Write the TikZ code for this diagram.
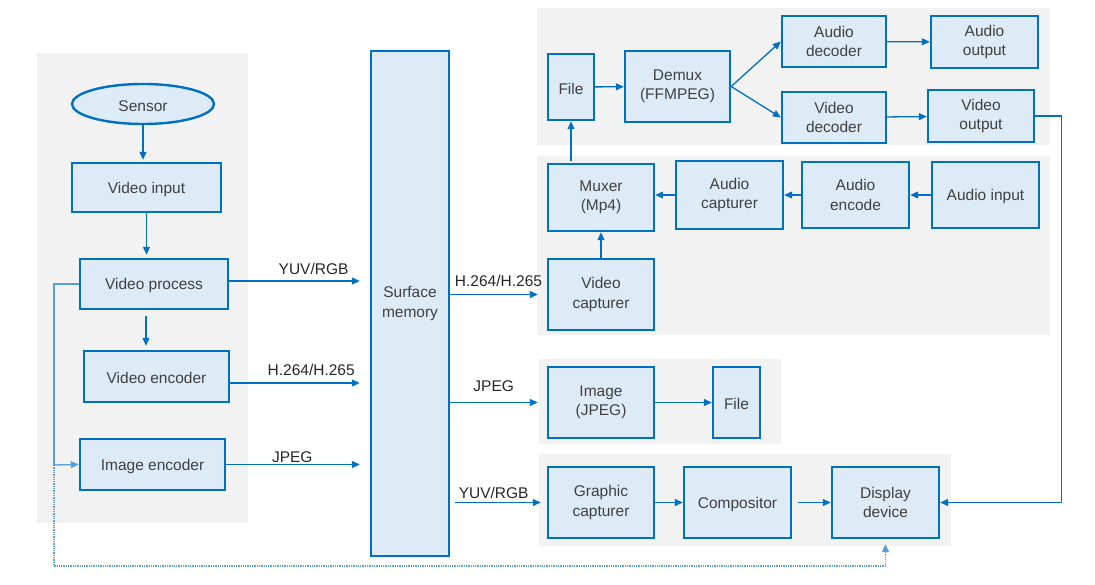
\documentclass[tikz,border=0pt]{standalone}
\usepackage{fontspec}
\setmainfont{Liberation Sans}
\usetikzlibrary{positioning, arrows.meta, shapes.geometric}

\definecolor{boxblue}{RGB}{0,112,192}
\definecolor{boxfill}{RGB}{221,235,247}
\definecolor{panelgray}{RGB}{242,242,242}
\definecolor{txtgray}{RGB}{64,64,64}
\definecolor{dotblue}{RGB}{85,160,215}

\tikzset{
    box/.style={draw=boxblue, fill=boxfill, line width=2.4pt, text=txtgray, align=center,
        inner sep=0pt, font=\fontsize{15.5}{19.5}\selectfont,
        execute at begin node={\rule{0pt}{15pt}}},
    sz/.style 2 args={minimum width=#1, minimum height=#2},
    arr/.style={draw=boxblue, line width=1.3pt, -{Triangle[length=8pt,width=7pt]}},
    dotline/.style={draw=dotblue, line width=1.3pt, densely dotted, -{Triangle[length=8pt,width=7pt]}},
    lbl/.style={text=black!85, inner sep=0pt, font=\fontsize{15.5}{19.5}\selectfont},
    panel/.style={fill=panelgray}
}

\begin{document}
\begin{tikzpicture}[x=1pt, y=-1pt]
        \useasboundingbox (0,0) rectangle (1095,585);
        \fill[panel] (37,53) rectangle (248,523);
        \fill[panel] (537,8) rectangle (1050,145);
        \fill[panel] (537,156) rectangle (1050,335);
        \fill[panel] (539,359) rectangle (781,444);
        \fill[panel] (539,454) rectangle (951,546);

        \node[box, ellipse, sz={142}{40}] (sensor) at (143,104) {Sensor};
        \node[box, sz={149}{49}] (vin) at (146.5,187.5) {Video input};
        \node[box, sz={148}{50}] (vproc) at (154,284) {Video process};
        \node[box, sz={145}{51}] (venc) at (156.5,376.5) {Video encoder};
        \node[box, sz={145}{51}] (ienc) at (152.5,464.5) {Image encoder};
        \node[box, sz={78}{505}] (mem) at (410,303.5) {Surface\\memory};

        \node[box, sz={46}{66}] (file1) at (571,87) {File};
        \node[box, sz={105}{71}] (demux) at (677.5,86.5) {Demux\\(FFMPEG)};
        \node[box, sz={104}{51}] (adec) at (834,41.5) {Audio\\decoder};
        \node[box, sz={107}{52}] (aout) at (984.5,42) {Audio\\output};
        \node[box, sz={104}{51}] (vdec) at (834,117.5) {Video\\decoder};
        \node[box, sz={106}{52}] (vout) at (981,116) {Video\\output};

        \node[box, sz={106}{67}] (mux) at (601,197.5) {Muxer\\(Mp4)};
        \node[box, sz={107}{68}] (acap) at (729.5,195) {Audio\\capturer};
        \node[box, sz={107}{66}] (aenc) at (855.5,195) {Audio\\encode};
        \node[box, sz={107}{66}] (ain) at (985.5,195) {Audio input};
        \node[box, sz={106}{71}] (vcap) at (601,294.5) {Video\\capturer};

        \node[box, sz={106}{71}] (img) at (601,402.5) {Image\\(JPEG)};
        \node[box, sz={47}{71}] (file2) at (736.5,402.5) {File};

        \node[box, sz={106}{71}] (gcap) at (601,502.5) {Graphic\\capturer};
        \node[box, sz={107}{71}] (comp) at (737.5,502.5) {Compositor};
        \node[box, sz={107}{71}] (disp) at (885.5,502.5) {Display\\device};

        \coordinate (tap) at (54,465);
        \coordinate (turn) at (54,566);

        \draw[arr, shorten >=2pt] (sensor.south) -- (sensor.south |- vin.north);
        \draw[arr, shorten >=3pt] (vin.south) -- (vin.south |- vproc.north);
        \draw[arr, shorten <=6pt, shorten >=4pt] ([xshift=-8pt]vproc.south) -- ([xshift=-8pt]vproc.south |- venc.north);

        \draw[arr, shorten >=10pt] ([yshift=3pt]vproc.east) -- ([yshift=3pt]vproc.east -| mem.west)
            node[lbl, above=6pt, pos=0.6] {YUV/RGB};
        \draw[arr, shorten >=10pt] ([yshift=-6.5pt]venc.east) -- ([yshift=-6.5pt]venc.east -| mem.west)
            node[lbl, above=7pt, pos=0.58] {H.264/H.265};
        \draw[arr, shorten >=10pt] (ienc.east) -- (ienc.east -| mem.west)
            node[lbl, above=1pt, pos=0.46] {JPEG};

        \draw[arr, shorten >=9pt] (vcap.west -| mem.east) -- (vcap.west)
            node[lbl, above=7pt, pos=0.5] {H.264/H.265};
        \draw[arr, shorten >=9pt] (img.west -| mem.east) -- (img.west)
            node[lbl, above=10pt, pos=0.45] {JPEG};
        \draw[arr, shorten <=5pt, shorten >=6pt] (gcap.west -| mem.east) -- (gcap.west)
            node[lbl, above=3pt, pos=0.45] {YUV/RGB};

        \draw[arr] (file1) -- (demux);
        \draw[arr] (demux.east) -- (adec.west);
        \draw[arr] (demux.east) -- (vdec.west);
        \draw[arr] (adec) -- (aout);
        \draw[arr] (vdec) -- (vout);
        \draw[arr] (vout.east) -- ++(26,0) |- (disp.east);

        \draw[arr] (ain) -- (aenc);
        \draw[arr] (aenc) -- (acap);
        \draw[arr] (acap.west) -- (acap.west -| mux.east);
        \draw[arr] (vcap) -- (mux);
        \draw[arr, shorten <=2pt] (file1.south |- mux.north) -- (file1.south);

        \draw[arr] (img.east |- file2.west) -- (file2.west);
        \draw[arr] (gcap) -- (comp);
        \draw[arr, shorten <=6pt] (comp) -- (disp);

        \draw[draw=dotblue, line width=1.3pt] (vproc.west) -| (tap);
        \draw[arr, draw=dotblue] (tap) -- (ienc.west);
        \draw[dotline, shorten >=5pt] (tap) -- (turn) -| (disp.south);
    \end{tikzpicture}
\end{document}
